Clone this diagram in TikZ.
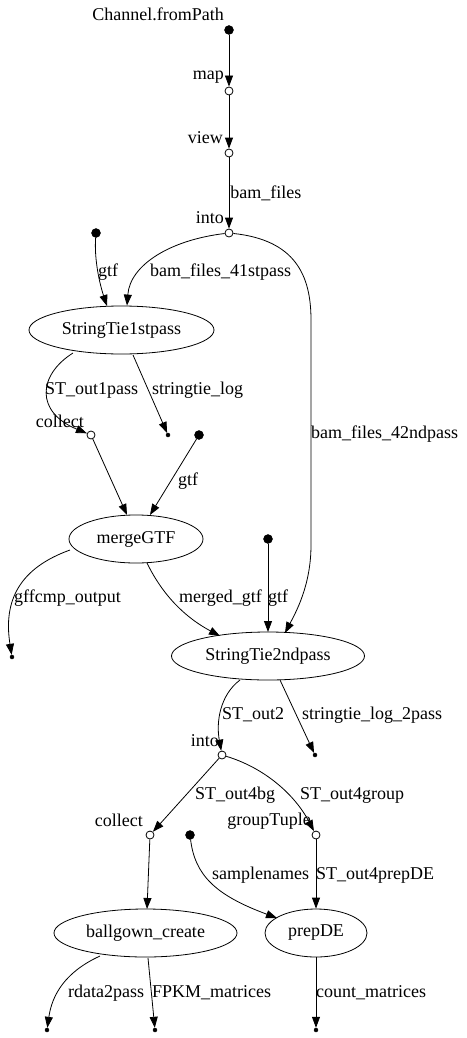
\documentclass[tikz,border=0pt]{standalone}
\usepackage{fontspec}
\setmainfont{Liberation Serif}
\usetikzlibrary{shapes.geometric,arrows.meta}
\begin{document}
\begin{tikzpicture}[x=1pt,y=-1pt,
  every node/.style={font=\fontsize{18}{20}\selectfont},
  proc/.style={draw,ellipse,minimum height=48pt,inner sep=0pt,line width=0.8pt},
  src/.style={circle,fill=black,draw,inner sep=0pt,minimum size=9pt},
  op/.style={circle,fill=white,draw,inner sep=0pt,minimum size=8pt,line width=0.8pt},
  sink/.style={circle,fill=black,draw,inner sep=0pt,minimum size=4pt},
  lbl/.style={inner sep=0pt},
  edge/.style={-{Triangle[length=11pt,width=8pt]},line width=0.8pt}]
\useasboundingbox (0,0) rectangle (466,1038);
% nodes
\node[src] (from) at (229,30) {};
\node[lbl,anchor=east] (fromlbl) at (224,14) {Channel.fromPath};
\node[op] (map) at (229,91) {};
\node[lbl,anchor=east] (maplbl) at (224,77) {map};
\node[op] (view) at (229,153) {};
\node[lbl,anchor=east] (viewlbl) at (223,138) {view};
\node[op] (into) at (229,233) {};
\node[lbl,anchor=east] (intolbl) at (224,218) {into};
\node[src] (gtf1) at (96,233) {};
\node[proc,minimum width=185pt] (st1) at (121.5,330) {StringTie1stpass};
\node[op] (collect) at (91,435) {};
\node[lbl,anchor=east] (collectlbl) at (84,421) {collect};
\node[sink] (log1) at (168,435) {};
\node[src] (gtf2) at (199,435) {};
\node[proc,minimum width=134pt] (merge) at (136,539) {mergeGTF};
\node[sink] (gff) at (12,657) {};
\node[src] (gtf3) at (268,539) {};
\node[proc,minimum width=193pt] (st2) at (268,656) {StringTie2ndpass};
\node[op] (into2) at (222,755) {};
\node[lbl,anchor=east] (into2lbl) at (219,741) {into};
\node[sink] (log2) at (315,755) {};
\node[op] (collect2) at (150,835) {};
\node[lbl,anchor=east] (collect2lbl) at (143,820) {collect};
\node[op] (group) at (316,835) {};
\node[lbl,anchor=east] (grouplbl) at (311,821) {groupTuple};
\node[src] (samples) at (190,835) {};
\node[proc,minimum width=183pt] (ball) at (145.5,933) {ballgown\_create};
\node[proc,minimum width=102pt] (prep) at (316,933) {prepDE};
\node[sink] (rdata) at (47,1030) {};
\node[sink] (fpkm) at (155,1030) {};
\node[sink] (count) at (316,1030) {};
% edges
\draw[edge] (from) -- (map);
\draw[edge] (map) -- (view);
\draw[edge] (view) -- node[lbl,anchor=west,pos=0.5,xshift=1pt] {bam\_files} (into);
\draw[edge] (into) .. controls (170,240) and (130,265) .. (st1.north -| 127,0);
\draw[edge] (into) .. controls (295,240) and (311,275) .. (311,320) -- (311,545) .. controls (311,585) and (296,612) .. (285,633);
\node[lbl,anchor=west] at (311,434) {bam\_files\_42ndpass};
\node[lbl,anchor=west] at (150,272) {bam\_files\_41stpass};
\draw[edge] (gtf1) .. controls (94,260) and (100,285) .. (107,306);
\node[lbl,anchor=west] at (98,272) {gtf};
\draw[edge] (73,353) .. controls (38,375) and (35,412) .. (collect);
\node[lbl,anchor=west] at (45,390) {ST\_out1pass};
\draw[edge] (133,355) -- (log1);
\node[lbl,anchor=west] at (152,390) {stringtie\_log};
\draw[edge] (collect) -- (127,515);
\draw[edge] (gtf2) -- (150,515);
\node[lbl,anchor=west] at (178,481) {gtf};
\draw[edge] (70,550) .. controls (20,568) and (3,600) .. (gff);
\node[lbl,anchor=west] at (14,598) {gffcmp\_output};
\draw[edge] (147,563) .. controls (165,600) and (190,620) .. (220,636);
\node[lbl,anchor=west] at (179,598) {merged\_gtf};
\draw[edge] (gtf3) -- (268,632);
\node[lbl,anchor=west] at (268,598) {gtf};
\draw[edge] (240,680) .. controls (220,695) and (216,722) .. (into2);
\node[lbl,anchor=west] at (222,715) {ST\_out2};
\draw[edge] (280,680) -- (log2);
\node[lbl,anchor=west] at (302,715) {stringtie\_log\_2pass};
\draw[edge] (into2) -- (collect2);
\node[lbl,anchor=west] at (195,795) {ST\_out4bg};
\draw[edge] (into2) .. controls (265,768) and (295,795) .. (group);
\node[lbl,anchor=west] at (300,795) {ST\_out4group};
\draw[edge] (samples) .. controls (195,875) and (215,895) .. (277,918);
\node[lbl,anchor=west] at (212,875) {samplenames};
\draw[edge] (collect2) -- (147,909);
\draw[edge] (group) -- (prep);
\node[lbl,anchor=west] at (316,875) {ST\_out4prepDE};
\draw[edge] (100,956) .. controls (65,972) and (52,995) .. (rdata);
\node[lbl,anchor=west] at (68,993) {rdata2pass};
\draw[edge] (148,958) -- (fpkm);
\node[lbl,anchor=west] at (152,993) {FPKM\_matrices};
\draw[edge] (prep) -- (count);
\node[lbl,anchor=west] at (316,993) {count\_matrices};
\end{tikzpicture}
\end{document}
